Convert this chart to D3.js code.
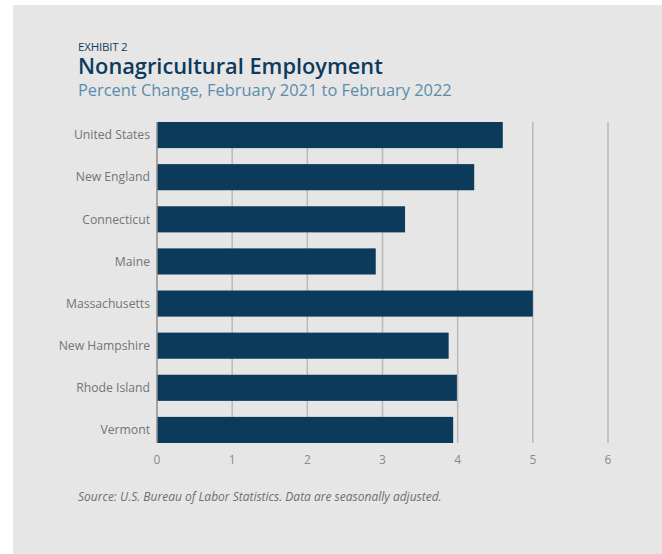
<!DOCTYPE html>
<html>
<head>
<meta charset="utf-8">
<script src="https://cdn.jsdelivr.net/npm/d3@7"></script>
<style>
  body { margin: 0; background: #fff; }
  text { font-family: "Open Sans", sans-serif; }
</style>
</head>
<body>
<div id="chart"></div>
<script>
// Values (percent change, Feb 2021 to Feb 2022)
const regions = ['United States', 'New England', 'Connecticut', 'Maine',
  'Massachusetts', 'New Hampshire', 'Rhode Island', 'Vermont'];
const pctChange = [4.6, 4.22, 3.3, 2.91, 5.0, 3.88, 3.99, 3.94];
const xTicks = [0, 1, 2, 3, 4, 5, 6];

const width = 662, height = 554;

const svg = d3.select('#chart').append('svg')
  .attr('width', width)
  .attr('height', height);

// grey panel
svg.append('rect')
  .attr('x', 13).attr('y', 5)
  .attr('width', width - 13).attr('height', height - 5)
  .attr('fill', '#e6e6e6');

// heading
svg.append('text')
  .attr('x', 78).attr('y', 51)
  .text('EXHIBIT 2')
  .style('font-size', '11.5px')
  .style('letter-spacing', '-0.2px')
  .attr('fill', '#123d5e');

svg.append('text')
  .attr('x', 78).attr('y', 74)
  .text('Nonagricultural Employment')
  .style('font-size', '21.8px')
  .style('font-weight', 600)
  .attr('fill', '#0f3a5c');

svg.append('text')
  .attr('x', 78).attr('y', 95.5)
  .text('Percent Change, February 2021 to February 2022')
  .style('font-size', '16.4px')
  .attr('fill', '#5b8cab');

const data = regions.map((r, i) => ({ region: r, value: pctChange[i] }));

const x = d3.scaleLinear()
  .domain([0, 6])
  .range([157, 608]);

const y = d3.scaleBand()
  .domain(regions)
  .range([114, 451])
  .paddingInner(0.38)
  .paddingOuter(0.19);

const gridTop = y(regions[0]);
const gridBottom = y(regions[regions.length - 1]) + y.bandwidth();

// vertical gridlines (skip 0, drawn as axis line)
svg.append('g')
  .selectAll('line')
  .data(xTicks.filter(d => d > 0))
  .enter()
  .append('line')
  .attr('x1', d => x(d)).attr('x2', d => x(d))
  .attr('y1', gridTop).attr('y2', gridBottom)
  .attr('stroke', '#b9b9b9')
  .attr('stroke-width', 1.5);

// bars
svg.append('g')
  .selectAll('rect')
  .data(data)
  .enter()
  .append('rect')
  .attr('x', x(0))
  .attr('y', d => y(d.region))
  .attr('width', d => x(d.value) - x(0))
  .attr('height', y.bandwidth())
  .attr('fill', '#0c3a5b');

// zero line
svg.append('line')
  .attr('x1', x(0)).attr('x2', x(0))
  .attr('y1', gridTop).attr('y2', gridBottom)
  .attr('stroke', '#8c8c8c')
  .attr('stroke-width', 1.5);

// category labels
svg.append('g')
  .selectAll('text')
  .data(regions)
  .enter()
  .append('text')
  .attr('x', 150)
  .attr('y', d => y(d) + y.bandwidth() / 2)
  .attr('dy', '0.35em')
  .attr('text-anchor', 'end')
  .text(d => d)
  .style('font-size', '12.2px')
  .attr('fill', '#747474');

// x tick labels
svg.append('g')
  .selectAll('text')
  .data(xTicks)
  .enter()
  .append('text')
  .attr('x', d => x(d))
  .attr('y', 460)
  .attr('dy', '0.35em')
  .attr('text-anchor', 'middle')
  .text(d => d)
  .style('font-size', '12px')
  .attr('fill', '#8a8a8a');

// source note
svg.append('text')
  .attr('x', 78).attr('y', 501)
  .text('Source: U.S. Bureau of Labor Statistics. Data are seasonally adjusted.')
  .style('font-size', '12px')
  .style('font-style', 'italic')
  .attr('fill', '#6e6e6e');
</script>
</body>
</html>
